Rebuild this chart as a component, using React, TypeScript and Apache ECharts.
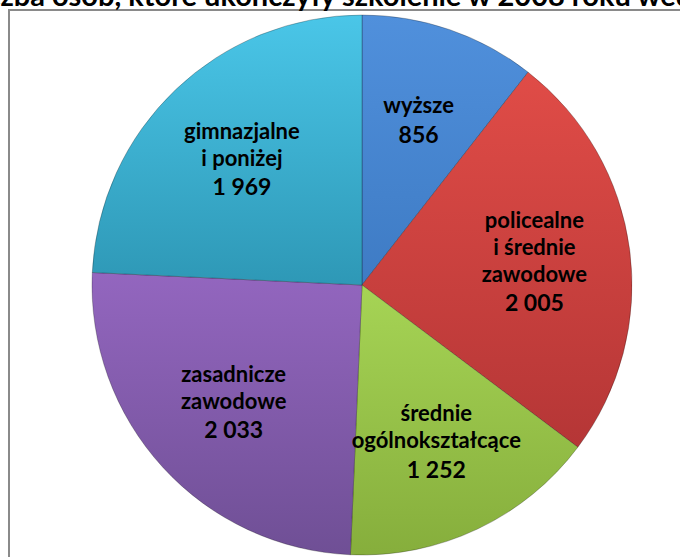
import React, { useEffect, useRef } from "react";
import * as echarts from "echarts";

const TITLE = "Liczba osób, które ukończyły szkolenie w 2008 roku według wykształcenia";
const categories = [
  "wyższe",
  "policealne\ni średnie\nzawodowe",
  "średnie\nogólnokształcące",
  "zasadnicze\nzawodowe",
  "gimnazjalne\ni poniżej",
];
const values = [856, 2005, 1252, 2033, 1969];
const colorsTop = ["#5090dc", "#e04c47", "#a6d455", "#9366bf", "#4ac6e8"];
const colorsBottom = ["#3e7bc4", "#b53636", "#86ae3c", "#6f4f95", "#2e98b6"];

const CX = 362;
const CY = 285;
const R = 270;
const K = 0.26;

function fmt(v: number): string {
  return String(v).replace(/\B(?=(\d{3})+(?!\d))/g, " ");
}

export default function App() {
  const ref = useRef<HTMLDivElement>(null);
  useEffect(() => {
    document.body.style.margin = "0";
    const chart = echarts.init(ref.current!, null, { renderer: "svg" });
    chart.setOption({
      animation: false,
      graphic: [
        {
          type: "rect",
          shape: { x: 9, y: 10, width: 700, height: 600 },
          style: { fill: "none", stroke: "#8a8a8a", lineWidth: 2 },
          z: 0,
        },
        {
          type: "text",
          x: -36,
          y: -6,
          style: {
            text: TITLE,
            font: "bold 29px Lato",
            fill: "#000",
            textAlign: "left",
            textVerticalAlign: "middle",
          },
        },
      ],
      series: [
        {
          type: "pie",
          center: [CX, CY],
          radius: [0, R],
          startAngle: 90,
          clockwise: true,
          silent: true,
          itemStyle: { borderColor: "rgba(0,0,0,0.25)", borderWidth: 1 },
          label: {
            position: "inside",
            formatter: (p: any) => `{n|${p.name}}\n{v|${fmt(p.value)}}`,
            rich: {
              n: { fontFamily: "Lato", fontWeight: "bold", fontSize: 22, lineHeight: 27, color: "#000", align: "center" },
              v: { fontFamily: "Lato", fontWeight: "bold", fontSize: 23, lineHeight: 31, color: "#000", align: "center" },
            },
          },
          labelLayout: (p: any) => {
            const r = p.labelRect;
            const lx = r.x + r.width / 2;
            const ly = r.y + r.height / 2;
            return { dx: (lx - CX) * K, dy: (ly - CY) * K };
          },
          data: values.map((v, i) => ({
            name: categories[i],
            value: v,
            itemStyle: {
              color: new echarts.graphic.LinearGradient(0, 0, 0, 1, [
                { offset: 0, color: colorsTop[i] },
                { offset: 1, color: colorsBottom[i] },
              ]),
            },
          })),
        },
      ],
    });
    return () => chart.dispose();
  }, []);
  return <div ref={ref} style={{ width: 680, height: 557 }} />;
}
